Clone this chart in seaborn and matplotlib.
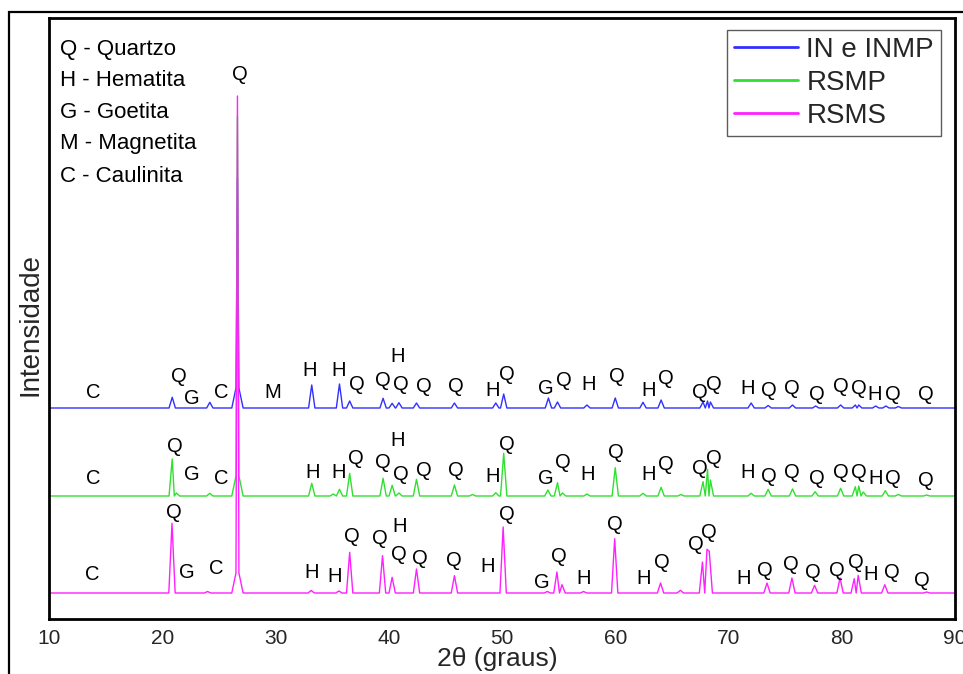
import numpy as np
import pandas as pd
import matplotlib
matplotlib.use("Agg")
import matplotlib.pyplot as plt
import seaborn as sns
from matplotlib.patches import Rectangle

# ---------------- data ----------------
series_names = ["IN e INMP", "RSMP", "RSMS"]
series_colors = ["#3030ff", "#30e030", "#ff20ff"]
baselines = [211, 123, 26]

# peak positions (2theta) and heights above each trace's baseline
in_pos = [20.88, 24.2, 26.64, 33.2, 35.65, 36.55, 39.5, 40.3, 40.9, 42.45, 45.8,
          49.45, 50.15, 54.1, 54.9, 57.5, 60.0, 62.45, 64.05, 67.75, 68.15, 68.4,
          72.0, 73.5, 75.65, 77.7, 79.9, 81.2, 81.5, 83.0, 83.9, 85.0]
in_hgt = [10.7, 5.7, 230, 23, 24, 7, 9.7, 4.7, 5.3, 5, 5,
          5, 14, 10, 6, 3, 10, 5.7, 8, 6, 7, 6,
          5, 2.5, 3, 2, 3, 3, 3, 2, 2, 1.5]

rsmp_pos = [20.88, 21.25, 24.2, 26.64, 33.2, 35.1, 35.65, 36.55, 39.5, 40.3, 40.9,
            42.45, 45.8, 47.4, 49.45, 50.15, 54.05, 54.9, 55.35, 57.5, 60.0, 62.45,
            64.05, 65.8, 67.75, 68.15, 68.4, 72.0, 73.5, 75.65, 77.65, 79.9, 81.2,
            81.5, 81.9, 83.85, 85.0, 87.5]
rsmp_hgt = [37, 3, 2.7, 380, 12.7, 2, 6.7, 22.7, 17.7, 10.7, 3,
            16.7, 11, 1.5, 3.3, 42.7, 6, 13.3, 3, 2, 28.3, 2.7,
            8.7, 1.5, 14.3, 26.7, 16, 2.7, 6.7, 7, 4.3, 7.7, 9.3,
            10, 4, 5.3, 1.5, 1]

rsms_pos = [20.86, 24.0, 26.64, 33.15, 35.6, 36.55, 39.45, 40.3, 42.45, 45.8,
            50.1, 54.0, 54.85, 55.3, 57.2, 59.95, 64.0, 65.75, 67.7, 68.1, 68.3,
            73.4, 75.6, 77.6, 79.85, 81.1, 81.45, 83.8, 87.5]
rsms_hgt = [69.7, 1.5, 497, 2.5, 2, 40.7, 37.3, 15.7, 24, 17.3,
            66, 1.5, 21, 8.3, 1.5, 54.3, 10, 2.7, 31, 43.7, 41.7,
            10, 15, 7.7, 15, 14.3, 17.7, 8.3, 1]

# phase labels above the peaks
in_lbl = "C Q G C M H H Q Q H Q Q Q H Q G Q H Q H Q Q Q H Q Q Q Q Q H Q Q".split()
in_lbl_x = [13.91, 21.51, 22.60, 25.19, 29.75, 32.98, 35.61, 37.17, 39.52, 40.79, 41.08,
            43.14, 45.91, 49.14, 50.47, 53.89, 55.50, 57.62, 60.13, 62.98, 64.48, 67.48,
            68.75, 71.70, 73.58, 75.58, 77.84, 79.93, 81.55, 82.94, 84.50, 87.44]
in_lbl_y = [227, 242, 221, 226, 226, 249, 249, 235, 238, 263, 234,
            232, 232, 229, 244, 230, 239, 234, 243, 229, 240, 226,
            235, 231, 228, 231, 225, 233, 231, 225, 225, 225]

rsmp_lbl = "C Q G C H H Q Q H Q Q Q H Q G Q H Q H Q Q Q H Q Q Q Q Q H Q Q".split()
rsmp_lbl_x = [13.91, 21.13, 22.60, 25.19, 33.25, 35.61, 37.11, 39.52, 40.79, 41.08, 43.14,
              45.91, 49.14, 50.47, 53.89, 55.41, 57.57, 60.07, 62.98, 64.48, 67.48, 68.75,
              71.70, 73.58, 75.58, 77.84, 79.93, 81.55, 83.00, 84.50, 87.44]
rsmp_lbl_y = [140, 173, 145, 140, 147, 147, 160, 156, 178, 145, 149,
              149, 142, 175, 141, 157, 145, 167, 144, 154, 151, 160,
              146, 142, 146, 140, 147, 146, 140, 140, 139]

rsms_lbl = "C Q G C H H Q Q H Q Q Q H Q G Q H Q H Q Q Q H Q Q Q Q Q H Q Q".split()
rsms_lbl_x = [13.86, 21.06, 22.21, 24.81, 33.20, 35.19, 36.73, 39.23, 40.99, 40.93, 42.76,
              45.79, 48.74, 50.41, 53.50, 55.06, 57.18, 59.98, 62.54, 64.10, 67.10, 68.30,
              71.31, 73.22, 75.49, 77.49, 79.55, 81.23, 82.56, 84.46, 87.06]
rsms_lbl_y = [45, 107, 46, 50, 46, 43, 82, 80, 92, 65, 61,
              58, 53, 105, 37, 63, 41, 94, 40, 57, 75, 86,
              41, 49, 55, 46, 49, 56, 44, 46, 38]

main_lbl, main_lbl_x, main_lbl_y = "Q", 26.87, 544

key_lines = ["Q - Quartzo", "H - Hematita", "G - Goetita", "M - Magnetita", "C - Caulinita"]
key_x = 10.97
key_y = [570, 539, 507, 475, 443]

x_ticks = [10, 20, 30, 40, 50, 60, 70, 80, 90]


# ---------------- build line vertices from the read peaks ----------------
def trace_vertices(pos, hgt, base, hw=0.28):
    xs, ys = [10.0], [base]
    n = len(pos)
    for i, (c, h) in enumerate(zip(pos, hgt)):
        if h > 200:  # the dominant quartz reflection: narrow top, flared foot
            xs += [c - 0.5, c - 0.13, c, c + 0.13, c + 0.5]
            ys += [base, base + 20, base + h, base + 20, base]
            continue
        lg = c - pos[i - 1] if i > 0 else 99
        rg = pos[i + 1] - c if i < n - 1 else 99
        if lg >= 0.25:
            xs.append(c - min(hw, lg / 2)); ys.append(base)
        xs.append(c); ys.append(base + h)
        if rg >= 0.25:
            xs.append(c + min(hw, rg / 2)); ys.append(base)
    xs.append(90.0); ys.append(base)
    return xs, ys


frames = []
for name, pos, hgt, base in zip(series_names, [in_pos, rsmp_pos, rsms_pos],
                                [in_hgt, rsmp_hgt, rsms_hgt], baselines):
    xs, ys = trace_vertices(pos, hgt, base)
    frames.append(pd.DataFrame({"two_theta": xs, "intensity": ys, "amostra": name}))
df = pd.concat(frames, ignore_index=True)

# ---------------- plot ----------------
sns.set_theme(style="white")
plt.rcParams["font.family"] = ["Liberation Sans", "DejaVu Sans"]

fig = plt.figure(figsize=(9.63, 6.74), dpi=100)
W, H = 963, 674
ax = fig.add_axes([49 / W, (H - 619) / H, (955 - 49) / W, (619 - 18) / H])

sns.lineplot(data=df, x="two_theta", y="intensity", hue="amostra",
             hue_order=series_names, palette=dict(zip(series_names, series_colors)),
             estimator=None, sort=False, linewidth=1.0, ax=ax)

ax.set_xlim(10, 90)
ax.set_ylim(0, 601)
ax.set_yticks([])
ax.set_xticks(x_ticks)
ax.set_xticklabels([str(t) for t in x_ticks], fontsize=15)
ax.tick_params(axis="x", length=0, pad=7)
for sp in ax.spines.values():
    sp.set_visible(True)
    sp.set_color("black")
    sp.set_linewidth(2.0)

ax.set_xlabel("2θ (graus)", fontsize=19)
ax.xaxis.set_label_coords((497 - 49) / 906, (619 - 647) / 601)
ax.set_ylabel("Intensidade", fontsize=20)
ax.yaxis.set_label_coords((44 - 49) / 906, (619 - 325) / 601)

# phase labels
for lbls, xs, ys in [(in_lbl, in_lbl_x, in_lbl_y), (rsmp_lbl, rsmp_lbl_x, rsmp_lbl_y),
                     (rsms_lbl, rsms_lbl_x, rsms_lbl_y)]:
    for t, x, y in zip(lbls, xs, ys):
        ax.text(x, y, t, fontsize=14.5, ha="center", va="center", color="black")
ax.text(main_lbl_x, main_lbl_y, main_lbl, fontsize=14.5, ha="center", va="center", color="black")

# phase key
for t, y in zip(key_lines, key_y):
    ax.text(key_x, y, t, fontsize=16, ha="left", va="center", color="black")

# legend
handles, labels = ax.get_legend_handles_labels()
leg = ax.legend(handles, labels, loc="upper right",
                bbox_to_anchor=(941 / W, 1 - 30 / H), bbox_transform=fig.transFigure,
                borderaxespad=0, fontsize=20, frameon=True, fancybox=False,
                handlelength=2.3, handletextpad=0.3, labelspacing=0.25,
                borderpad=0.25, title=None)
leg.get_frame().set_edgecolor("#333333")
leg.get_frame().set_linewidth(1.0)
for ln in leg.get_lines():
    ln.set_linewidth(2.0)

# outer frame of the figure
fig.add_artist(Rectangle((9 / W, -0.1), 1.2, 1.1 - 12 / H, transform=fig.transFigure,
                         fill=False, edgecolor="black", linewidth=1.6, clip_on=False))

fig.savefig("out.png", dpi=100)
